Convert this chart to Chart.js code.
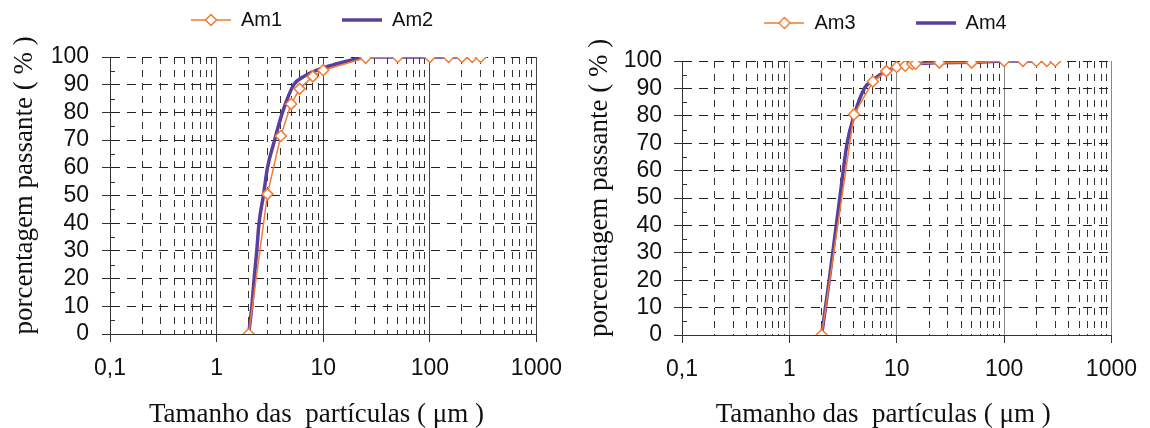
<!DOCTYPE html>
<html>
<head>
<meta charset="utf-8">
<script src="https://cdn.jsdelivr.net/npm/chart.js@4/dist/chart.umd.min.js"></script>
<style>
  body { margin: 0; background: #fff; }
  .panel { position: absolute; top: 0; width: 575px; height: 428px; }
</style>
</head>
<body>
<div class="panel" style="left:0"><canvas id="left" width="575" height="428"></canvas></div>
<div class="panel" style="left:575px"><canvas id="right" width="575" height="428"></canvas></div>
<script>
// particle size (um) vs cumulative % passing
const am1X = [2, 3, 4, 5, 6, 8, 10, 25, 50, 100, 150, 200, 250, 300];
const am1Y = [0, 50.5, 71.5, 83, 88.5, 93, 95.2, 99.7, 100, 100, 100, 100, 100, 100];
const am2X = [2, 2.14, 2.25, 2.38, 2.5, 2.75, 3, 3.5, 4.15, 5.3, 6.6, 8.4, 12, 19, 25, 50, 100, 150, 200, 250, 300];
const am2Y = [0, 10, 20, 30, 40, 50, 60, 70, 80, 90, 93, 95, 97, 99, 100, 100, 100, 100, 100, 100, 100];
const am3X = [2, 4, 6, 8, 10, 12, 14, 15, 25, 50, 100, 150, 200, 250, 300];
const am3Y = [0, 80.5, 92.5, 96.3, 97.8, 98.3, 98.9, 99, 99.4, 99.4, 100, 100, 100, 100, 100];
const am4X = [2, 2.35, 2.95, 3.45, 4, 5, 6, 8, 10, 15, 25, 50, 100, 150, 200, 250, 300];
const am4Y = [0, 20, 50, 70, 80, 90, 93, 96.3, 97.7, 99, 99.4, 99.5, 100, 100, 100, 100, 100];

const decadeLabels = { 0.1: "0,1", 1: "1", 10: "10", 100: "100", 1000: "1000" };
const yMinor = [5, 15, 25, 35, 45, 55, 65, 75, 85, 95];
const xTicks = [];
[0.1, 1, 10, 100].forEach(d => {
  for (let m = 1; m < 10; m++) xTicks.push(Number((m * d).toPrecision(3)));
});
xTicks.push(1000);

const ORANGE = "#f27a34";
const PURPLE = "#5a3f9c";
const SERIF = "'Liberation Serif', 'Times New Roman', serif";

Chart.defaults.font.family = "'Liberation Sans', Arial, sans-serif";
Chart.defaults.color = "#111";
Chart.defaults.animation = false;

function pts(xs, ys) {
  return xs.map((x, i) => ({ x: x, y: ys[i] }));
}

function legendIcon(color, width, marker) {
  const c = document.createElement("canvas");
  c.width = 40;
  c.height = 14;
  const g = c.getContext("2d");
  g.strokeStyle = color;
  g.lineWidth = width;
  g.beginPath();
  g.moveTo(0, 7);
  g.lineTo(40, 7);
  g.stroke();
  if (marker) {
    g.fillStyle = "#fff";
    g.lineWidth = 1.5;
    g.beginPath();
    g.moveTo(20, 1.5);
    g.lineTo(25.5, 7);
    g.lineTo(20, 12.5);
    g.lineTo(14.5, 7);
    g.closePath();
    g.fill();
    g.stroke();
  }
  return c;
}

const isDecade = c => c.tick && decadeLabels[c.tick.value] !== undefined;

function makeChart(id, names, s1, s2, opt) {
  const icons = [legendIcon(ORANGE, 1.5, true), legendIcon(PURPLE, 3.5, false)];
  const pads = [" ".repeat(9), " ".repeat(4)];
  return new Chart(document.getElementById(id), {
    type: "line",
    data: {
      datasets: [
        {
          label: names[0],
          data: s1,
          borderColor: ORANGE,
          borderWidth: 1.5,
          pointStyle: "rectRot",
          pointRadius: 5.5,
          pointBackgroundColor: "#fff",
          pointBorderColor: ORANGE,
          pointBorderWidth: 1.5,
          tension: 0,
        },
        {
          label: names[1],
          data: s2,
          borderColor: PURPLE,
          borderWidth: 3.5,
          pointRadius: 0,
          cubicInterpolationMode: "monotone",
        },
      ],
    },
    options: {
      responsive: false,
      maintainAspectRatio: false,
      layout: { padding: { top: opt.top, right: opt.right, left: 0, bottom: 0 } },
      scales: {
        x: {
          type: "logarithmic",
          min: 0.1,
          max: 1000,
          afterBuildTicks: s => { s.ticks = xTicks.map(v => ({ value: v })); },
          afterFit: s => { s.height = opt.xHeight; },
          ticks: {
            autoSkip: false,
            maxRotation: 0,
            padding: 13,
            font: { size: 23 },
            callback: v => decadeLabels[v] ?? "",
          },
          grid: {
            color: c => isDecade(c) ? opt.major : "#333",
            tickLength: 8,
            tickColor: c => isDecade(c) ? "#333" : "rgba(0,0,0,0)",
          },
          border: { color: "#333", dash: c => c.tick && !isDecade(c) ? [7, 6] : [] },
          title: {
            display: true,
            text: "Tamanho das  partículas ( μm )" + opt.xTitlePad,
            font: { family: SERIF, size: 27, lineHeight: 1 },
            padding: { top: 0, bottom: 0 },
          },
        },
        y: {
          min: 0,
          max: 100,
          afterFit: s => { s.width = opt.yWidth; },
          ticks: { stepSize: 10, autoSkip: false, padding: opt.yPad, font: { size: 23 } },
          grid: { color: "#222", tickLength: 8, tickColor: "#333" },
          border: { color: "#333", dash: c => c.tick && c.tick.value > 0 ? [9, 7] : [] },
          title: {
            display: true,
            text: "   porcentagem passante ( % )",
            font: { family: SERIF, size: 27, lineHeight: 1 },
            padding: { top: 11, bottom: 0 },
          },
        },
      },
      plugins: {
        legend: {
          position: "top",
          fullSize: false,
          labels: {
            usePointStyle: true,
            pointStyleWidth: 40,
            padding: 10,
            font: { size: 20 },
            generateLabels: chart => chart.data.datasets.map((ds, i) => ({
              text: ds.label + pads[i],
              pointStyle: icons[i],
              fillStyle: "rgba(0,0,0,0)",
              strokeStyle: "rgba(0,0,0,0)",
              lineWidth: 0,
              hidden: false,
              datasetIndex: i,
              fontColor: "#111",
            })),
          },
        },
        tooltip: { enabled: false },
      },
    },
    plugins: [
      {
        id: "legendGap",
        beforeInit(chart) {
          const fit = chart.legend.fit;
          chart.legend.fit = function () {
            fit.call(this);
            this.height += opt.gap;
          };
        },
      },
      {
        id: "minorY",
        beforeDatasetsDraw(chart) {
          const { ctx, chartArea, scales } = chart;
          ctx.save();
          ctx.strokeStyle = "#333";
          ctx.lineWidth = 1;
          ctx.beginPath();
          yMinor.forEach(v => {
            const py = Math.round(scales.y.getPixelForValue(v)) + 0.5;
            ctx.moveTo(chartArea.left, py);
            ctx.lineTo(chartArea.left + 5, py);
          });
          ctx.stroke();
          ctx.restore();
        },
      },
    ],
  });
}

makeChart("left", ["Am1", "Am2"], pts(am1X, am1Y), pts(am2X, am2Y), {
  top: 0, gap: 17, right: 29, xHeight: 94, yWidth: 110, yPad: 13, major: "#444", xTitlePad: "  ",
});
makeChart("right", ["Am3", "Am4"], pts(am3X, am3Y), pts(am4X, am4Y), {
  top: 3, gap: 18, right: 28, xHeight: 93, yWidth: 107, yPad: 12, major: "#888", xTitlePad: "    ",
});
</script>
</body>
</html>
